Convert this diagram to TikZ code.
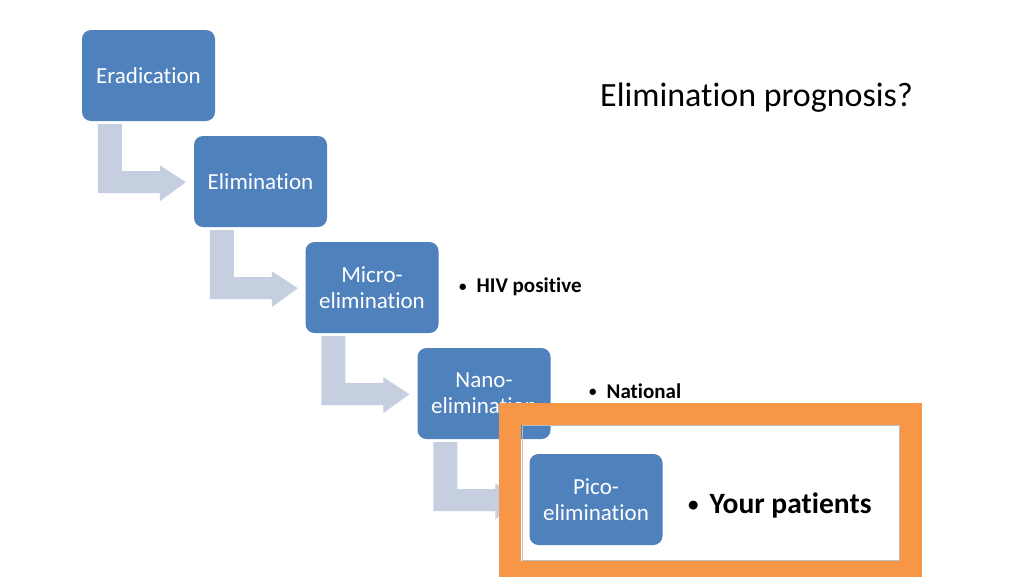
\documentclass[tikz,border=0pt]{standalone}
\usepackage{fontspec}
\setmainfont{Carlito}[Ligatures={NoCommon,NoRare,NoContextual}]
\usetikzlibrary{calc}
\definecolor{boxblue}{RGB}{79,129,189}
\definecolor{arrowgray}{RGB}{197,207,224}
\definecolor{frameorange}{RGB}{247,150,70}
\definecolor{innergray}{RGB}{190,190,190}
\newcommand{\smallbul}{{\fontsize{15}{15}\selectfont\raisebox{0.2ex}{\textbullet}}}
\tikzset{
  stagebox/.style={fill=boxblue, rounded corners=9pt, minimum width=133pt, minimum height=91pt,
    inner sep=0pt, text=white, font=\fontsize{23}{26}\selectfont, align=center},
  bentarrow/.style={fill=arrowgray, draw=none},
  bullettext/.style={anchor=west, font=\bfseries\fontsize{21}{24}\selectfont, inner sep=0pt},
}
\begin{document}
\begin{tikzpicture}[x=1pt,y=-1pt]
\useasboundingbox (0,0) rectangle (1024,576);
\fill[white] (0,0) rectangle (1024,576);

\node[stagebox] (erad) at (148.5,75.5) {Eradication};
\node[stagebox] (elim) at (260.5,181.5) {Elimination};
\node[stagebox] (micro) at (372,287.5) {Micro-\\elimination};
\node[stagebox] (nano) at (484,393.5) {Nano-\\elimination};

\foreach \b in {erad,elim,micro,nano}{
  \begin{scope}[shift={(\b.south west)}]
    \fill[bentarrow] (16,3) -- (40,3) -- (40,50) -- (78,50) -- (78,44) -- (104,61)
      -- (78,80) -- (78,72) -- (16,72) -- cycle;
  \end{scope}
}

% frame
\draw[frameorange, line width=22pt] (510,414) rectangle (911,572);
\draw[innergray, line width=0.8pt] (522,425) rectangle (899,560);

\node[stagebox] (pico) at (596,499.5) {Pico-\\elimination};

\node[bullettext] (hiv) at (459,287) {\smallbul\hspace{10pt}HIV positive};
\node[bullettext] (nat) at (589,391) {\smallbul\hspace{10pt}National};
\node[bullettext, font=\bfseries\fontsize{29.5}{32}\selectfont] (your) at (688,505) {{\fontsize{21}{21}\selectfont\raisebox{0.2ex}{\textbullet}}\hspace{11pt}Your patients};

\node[anchor=west, inner sep=0pt, font=\fontsize{34}{40}\selectfont] (title) at (600,98) {Elimination prognosis?};
\end{tikzpicture}
\end{document}
